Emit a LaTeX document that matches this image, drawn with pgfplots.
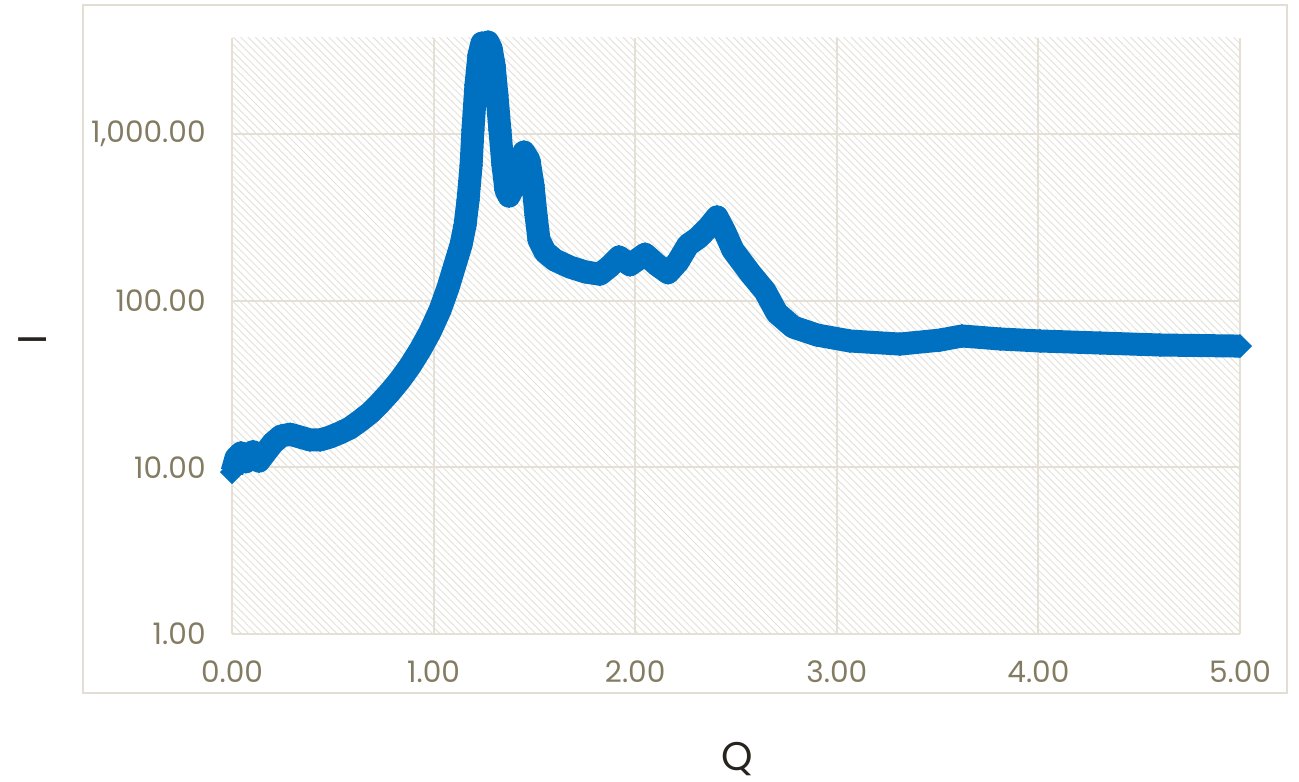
\documentclass[border=0pt]{standalone}
\usepackage{pgfplots}
\pgfplotsset{compat=1.18}
\usepackage{fontspec}
\setmainfont{Poppins}
\usetikzlibrary{patterns.meta}
\definecolor{serblue}{RGB}{0,112,192}
\definecolor{ticktxt}{RGB}{132,124,98}
\definecolor{gridc}{RGB}{228,224,214}
\definecolor{hatchc}{RGB}{228,226,219}
\definecolor{bordc}{RGB}{226,222,212}
\definecolor{labtxt}{RGB}{38,36,28}
\begin{document}
\begin{tikzpicture}
\path (-116pt,-71.5pt) rectangle (533.5pt,317pt);
\draw[bordc, line width=1pt] (-74.5pt,-29.5pt) rectangle (527.5pt,314.5pt);
\begin{axis}[
  at={(0pt,0pt)}, anchor=south west,
  scale only axis, width=504pt, height=298pt,
  xmin=0, xmax=5, ymode=log, ymin=1, ymax=3770,
  axis line style={draw=none},
  tick style={draw=none},
  grid=major, major grid style={gridc, line width=1pt},
  xtick={0,1,2,3,4,5}, xticklabels={0.00,1.00,2.00,3.00,4.00,5.00},
  ytick={1,10,100,1000}, yticklabels={1.00,10.00,100.00,{1,000.00}},
  minor ytick={},
  tick label style={font=\fontsize{14.8}{18}\selectfont, text=ticktxt},
  yticklabel style={anchor=east, inner sep=0pt, xshift=-13pt},
  xticklabel style={anchor=north, inner sep=0pt, yshift=-13pt},
  axis background/.style={pattern={Lines[angle=-45,distance=2.6pt,line width=0.5pt]}, pattern color=hatchc},
  clip=false,
]
\addplot[serblue, line width=11.5pt, line join=round, mark=square*, mark options={solid, rotate=45, line width=0.3pt, fill=serblue}, mark size=4.1pt] coordinates {
(0.000,9.37) (0.020,11.4) (0.045,12.2) (0.069,10.8) (0.104,12.4) (0.134,10.9)
(0.169,12.4) (0.203,14.0) (0.243,15.4) (0.288,15.8) (0.337,15.2) (0.387,14.6)
(0.437,14.6) (0.486,15.2) (0.536,16.1) (0.585,17.2) (0.635,19.0) (0.685,21.2)
(0.734,24.3) (0.784,28.3) (0.833,33.4) (0.883,40.5) (0.933,50.6) (0.982,64.8)
(1.032,87.9) (1.071,119) (1.106,164) (1.136,216) (1.156,284) (1.171,402)
(1.186,650) (1.195,1055) (1.210,1965) (1.225,2973) (1.240,3510) (1.255,3415)
(1.270,3560) (1.285,3275) (1.300,2590) (1.314,1711) (1.329,1055) (1.344,650)
(1.359,461) (1.374,424) (1.394,474) (1.419,607) (1.448,779) (1.473,697)
(1.493,494) (1.508,326) (1.523,231) (1.553,196) (1.602,175) (1.677,159)
(1.751,149) (1.825,144) (1.875,161) (1.920,183) (1.974,164) (2.049,190)
(2.108,164) (2.163,147) (2.212,171) (2.262,216) (2.312,238) (2.361,273)
(2.406,318) (2.445,258) (2.485,201) (2.569,147) (2.644,114) (2.703,84.3)
(2.783,69.5) (2.902,62.2) (3.065,57.3) (3.313,54.9) (3.512,58.0) (3.621,61.4)
(3.810,58.9) (4.008,57.3) (4.306,55.7) (4.603,54.2) (5.000,53.4)
};
\end{axis}
\node[rotate=90, anchor=base, text=labtxt, font=\fontsize{20}{24}\selectfont] at (-92.5pt,147pt) {I};
\node[anchor=base, text=labtxt, font=\fontsize{20}{24}\selectfont] at (252.5pt,-68pt) {Q};
\end{tikzpicture}
\end{document}
